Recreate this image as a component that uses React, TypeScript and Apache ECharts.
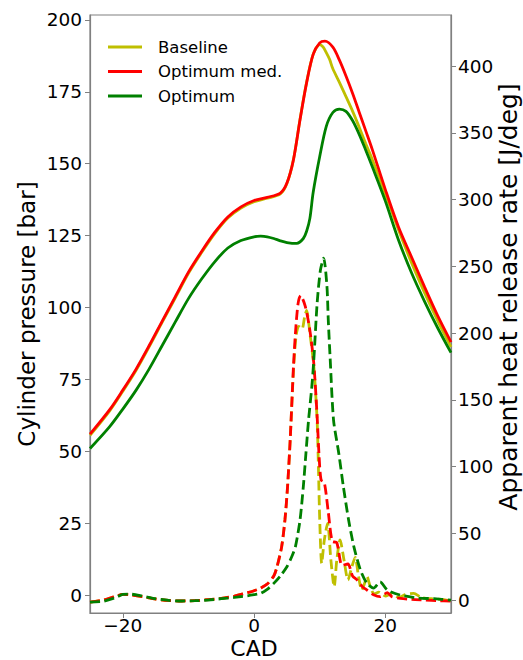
import React, { useEffect, useRef } from "react";
import * as echarts from "echarts";

// ---- Data ----
const SERIES_NAMES = ["Baseline", "Optimum med.", "Optimum"];
const COLORS = ["#bfbf00", "#ff0000", "#008000"];

const X_TICKS = [-20, 0, 20];
const P_TICKS = [0, 25, 50, 75, 100, 125, 150, 175, 200];
const HRR_TICKS = [0, 50, 100, 150, 200, 250, 300, 350, 400];

// Cylinder pressure [bar]
const cadPressBase = [-25, -22, -20, -18, -16, -14, -12, -10, -8, -6, -4, -2, 0, 2, 4, 5, 6, 7, 8, 9, 10, 10.5, 11, 11.5, 12, 13, 14, 15, 16, 17, 18, 20, 22, 24, 26, 28, 30];
const pressBase = [55.6, 64.1, 70.9, 78.1, 86.3, 94.9, 103.4, 111.9, 119.1, 125.7, 131.1, 134.6, 136.8, 138.0, 139.5, 143.1, 151.5, 165.5, 178.3, 188.0, 191.4, 190.6, 188.6, 186.3, 183.0, 178.3, 173.3, 168.3, 162.8, 157.0, 151.5, 139.5, 127.0, 115.5, 105.0, 95.3, 86.3];

const cadPressMed = [-25, -22, -20, -18, -16, -14, -12, -10, -8, -6, -4, -2, 0, 2, 4, 5, 6, 7, 8, 9, 10, 10.8, 12, 13, 14, 15, 16, 17, 18, 20, 22, 24, 26, 28, 30];
const pressMed = [56.0, 64.5, 71.3, 78.5, 86.7, 95.3, 103.8, 112.3, 119.5, 126.1, 131.5, 135.0, 137.2, 138.3, 139.8, 143.3, 151.4, 165.3, 178.1, 188.0, 192.0, 192.6, 190.5, 186.0, 180.5, 174.5, 168.0, 161.5, 155.0, 141.0, 128.0, 117.5, 107.0, 97.0, 88.0];

const cadPressOpt = [-25, -22, -20, -18, -16, -14, -12, -10, -8, -6, -4, -2, 0, 1, 2, 3, 4, 5, 6.5, 7.5, 8, 8.5, 9, 10, 11, 12, 13, 14, 15, 16, 17, 18, 20, 22, 24, 26, 28, 30];
const pressOpt = [51.0, 58.6, 64.7, 71.2, 78.6, 86.8, 95.0, 103.1, 109.9, 115.9, 120.7, 123.3, 124.6, 124.8, 124.6, 124.0, 123.2, 122.6, 122.3, 124.0, 126.5, 131.0, 140.0, 152.5, 163.0, 167.8, 169.0, 168.2, 165.0, 160.3, 154.8, 149.0, 137.0, 123.5, 112.0, 102.0, 92.8, 84.3];

// Apparent heat release rate [J/deg]
const cadHrrBase = [-25, -23, -21, -20, -19, -17, -15, -13, -11, -9, -7, -5, -3, -1, 0, 1, 2, 3, 3.5, 4.2, 4.7, 5.1, 5.5, 6.0, 6.4, 6.8, 7.3, 7.7, 8.0, 8.5, 9.1, 9.6, 9.8, 10.0, 10.3, 10.7, 11.2, 11.7, 12.2, 12.6, 13.1, 13.7, 14.3, 14.9, 15.4, 15.9, 16.4, 16.8, 17.2, 17.7, 18.3, 19, 20, 21, 22, 23, 24.3, 25.5, 27, 28.5, 30];
const hrrBase = [-1.5, 0, 3, 4.3, 4, 2.5, 0.7, -0.3, -0.7, -0.5, 0.3, 1.3, 3, 5.5, 7, 9, 12, 18, 25, 40, 60, 85, 120, 172, 198, 205, 203, 212, 217, 200, 175, 135, 100, 60, 27.5, 45, 57.5, 30, 10, 30, 45, 30, 15, 25, 32, 18, 7.5, 12, 17.5, 10, 4.5, 6, 3, 5, 2, 4, 5, 2, 1, 0.5, -0.5];

const cadHrrMed = [-25, -23, -21, -20, -19, -17, -15, -13, -11, -9, -7, -5, -3, -1, 0, 1, 2, 3, 3.5, 4.2, 4.7, 5.1, 5.5, 6.0, 6.3, 6.7, 7.1, 7.8, 8.5, 9.1, 9.6, 9.9, 10.2, 10.7, 11.3, 11.9, 12.6, 13.4, 14.3, 15.0, 15.7, 16.5, 17.2, 18.2, 19.2, 20.3, 21.0, 22.3, 24, 26, 28, 30];
const hrrMed = [-1.5, 0, 3, 4.3, 4, 2.5, 0.7, -0.3, -0.7, -0.5, 0.3, 1.3, 3, 5.5, 7, 9, 12, 18, 25, 40, 60, 85, 120, 175, 200, 222, 228, 220, 202, 177, 138, 108, 90, 88, 66, 44, 43, 26, 27, 18, 15, 10, 7.5, 4, 2.5, 5.5, 2.5, 1.2, 0.5, 0, -0.5, -0.7];

const cadHrrOpt = [-25, -23, -21, -20, -19, -17, -15, -13, -11, -9, -7, -5, -3, -1, 0, 1, 2, 3, 4, 5, 5.7, 6.3, 7.0, 7.5, 7.9, 8.3, 8.8, 9.1, 9.6, 10.1, 10.6, 11.1, 11.3, 11.6, 12.1, 12.9, 13.6, 14.4, 15.2, 16.2, 17.2, 18.2, 19.2, 20.3, 22.3, 25, 27.4, 30];
const hrrOpt = [-1.5, -1, 2, 4.3, 4.5, 3, 1, -0.3, -0.7, -0.5, 0, 1, 2, 3.2, 4, 5, 8, 12.5, 18, 25, 32, 40, 60, 85, 110, 135, 160, 180, 222, 247, 256, 235, 210, 180, 135, 110, 85, 60, 40, 22.5, 12.5, 9, 13.7, 7.5, 3.7, 1.5, 1, 0];

const zip = (xs: number[], ys: number[]) => xs.map((x, i) => [x, ys[i]]);

const FONT = "DejaVu Sans";
const GRAY = "#808080";
const fmt = (v: number) => String(v).replace("-", "\u2212");

export default function App() {
  const ref = useRef<HTMLDivElement>(null);

  useEffect(() => {
    if (!ref.current) return;
    const chart = echarts.init(ref.current, null, { renderer: "svg" });

    const pressure = [
      [cadPressBase, pressBase],
      [cadPressMed, pressMed],
      [cadPressOpt, pressOpt],
    ];
    const hrr = [
      [cadHrrBase, hrrBase],
      [cadHrrMed, hrrMed],
      [cadHrrOpt, hrrOpt],
    ];

    const series: any[] = [];
    pressure.forEach(([xs, ys], i) => {
      series.push({
        name: SERIES_NAMES[i],
        type: "line",
        yAxisIndex: 0,
        data: zip(xs, ys),
        showSymbol: false,
        smooth: 0.3,
        lineStyle: { color: COLORS[i], width: 2.8 },
        itemStyle: { color: COLORS[i] },
        z: 2 + i,
      });
    });
    hrr.forEach(([xs, ys], i) => {
      series.push({
        name: SERIES_NAMES[i] + " HRR",
        type: "line",
        yAxisIndex: 1,
        data: zip(xs, ys),
        showSymbol: false,
        smooth: 0.25,
        lineStyle: { color: COLORS[i], width: 2.8, type: [10, 4.5] },
        itemStyle: { color: COLORS[i] },
        z: 6 + i,
      });
    });

    const labelStyle = { fontFamily: FONT, fontSize: 18.5, color: "#000" };

    chart.setOption({
      animation: false,
      backgroundColor: "#fff",
      grid: {
        left: 90,
        right: 72,
        top: 15,
        bottom: 47,
        show: true,
        borderColor: GRAY,
        borderWidth: 1.2,
        backgroundColor: "transparent",
        outerBoundsMode: "none",
        containLabel: false,
      },
      legend: {
        data: SERIES_NAMES,
        orient: "vertical",
        left: 108,
        top: 37,
        padding: 0,
        icon: "rect",
        itemWidth: 34,
        itemHeight: 3,
        itemGap: 4.5,
        selectedMode: false,
        textStyle: {
          fontFamily: FONT,
          fontSize: 16.5,
          color: "#000",
          lineHeight: 20,
          padding: [0, 0, 0, 11],
        },
      },
      xAxis: {
        type: "value",
        min: -25,
        max: 30,
        name: "CAD",
        nameLocation: "middle",
        nameGap: 24,
        nameMoveOverlap: false,
        nameTextStyle: { fontFamily: FONT, fontSize: 22, lineHeight: 22, color: "#000", padding: [0, 33, 0, 0] },
        axisLine: { show: true, onZero: false, lineStyle: { color: GRAY, width: 1.2 } },
        axisTick: { show: true, length: 5, customValues: X_TICKS, lineStyle: { color: GRAY, width: 1 } },
        axisLabel: { ...labelStyle, margin: 3, customValues: X_TICKS, formatter: fmt },
        splitLine: { show: false },
      },
      yAxis: [
        {
          type: "value",
          position: "left",
          min: -6.2,
          max: 201.7,
          name: "Cylinder pressure [bar]",
          nameLocation: "middle",
          nameRotate: 90,
          nameGap: 52,
          nameMoveOverlap: false,
          nameTextStyle: { fontFamily: FONT, fontSize: 23, color: "#000" },
          axisLine: { show: true, onZero: false, lineStyle: { color: GRAY, width: 1.2 } },
          axisTick: { show: true, length: 5, customValues: P_TICKS, lineStyle: { color: GRAY, width: 1 } },
          axisLabel: { ...labelStyle, margin: 8, customValues: P_TICKS, formatter: fmt },
          splitLine: { show: false },
        },
        {
          type: "value",
          position: "right",
          min: -9.7,
          max: 438.2,
          name: "Apparent heat release rate [J/deg]",
          nameLocation: "middle",
          nameRotate: 90,
          nameGap: 45,
          nameMoveOverlap: false,
          nameTextStyle: { fontFamily: FONT, fontSize: 25, color: "#000", padding: [0, 0, 0, 34] },
          axisLine: { show: true, onZero: false, lineStyle: { color: GRAY, width: 1.2 } },
          axisTick: { show: true, length: 5, customValues: HRR_TICKS, lineStyle: { color: GRAY, width: 1 } },
          axisLabel: { ...labelStyle, margin: 7, customValues: HRR_TICKS, formatter: fmt },
          splitLine: { show: false },
        },
      ],
      series,
    });

    return () => chart.dispose();
  }, []);

  return <div ref={ref} style={{ width: 523, height: 660, position: "absolute", left: 0, top: 0 }} />;
}
